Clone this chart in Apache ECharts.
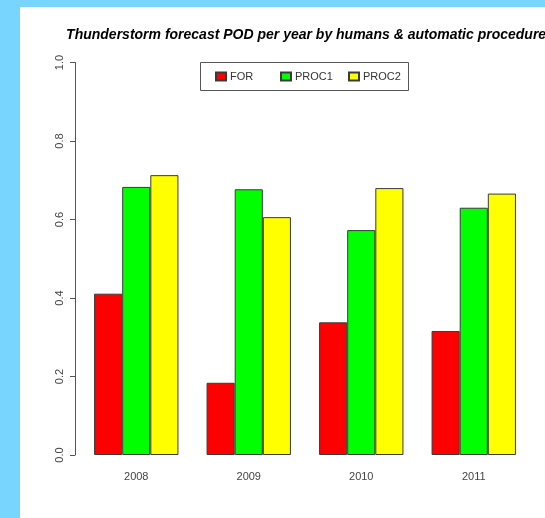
<!DOCTYPE html>
<html>
<head>
<meta charset="utf-8">
<script src="https://cdn.jsdelivr.net/npm/echarts@6/dist/echarts.min.js"></script>
<style>
  html, body { margin: 0; padding: 0; background: #78d5fe; }
  #panel { position: absolute; left: 20px; top: 7px; width: 525px; height: 511px; background: #ffffff; }
  #chart { position: absolute; left: 0; top: 0; width: 545px; height: 518px; }
</style>
</head>
<body>
<div id="panel"></div>
<div id="chart"></div>
<script>
// Forecast probability of detection (POD) per year
const years = ['2008', '2009', '2010', '2011'];
const seriesNames = ['FOR', 'PROC1', 'PROC2'];
const forValues = [0.411, 0.184, 0.338, 0.316];
const proc1Values = [0.683, 0.677, 0.573, 0.630];
const proc2Values = [0.713, 0.606, 0.680, 0.666];
const yTicks = [0, 0.2, 0.4, 0.6, 0.8, 1.0];

const colors = ['#ff0000', '#00ff00', '#ffff00'];
const font = '"Liberation Sans", Arial, sans-serif';

const chart = echarts.init(document.getElementById('chart'), null, { renderer: 'canvas' });

function barSeries(name, values, color) {
  return {
    name: name,
    type: 'bar',
    data: values,
    barGap: '0%',
    barCategoryGap: '25%',
    itemStyle: { color: color, borderColor: '#3a3a3a', borderWidth: 1 },
    emphasis: { disabled: true }
  };
}

// Legend entries sit in equal-width columns inside one framed box
const legendBox = { x: 200, y: 62, width: 208, height: 28 };
const legendColumnLeft = [215, 280, 348];

function legendEntry(name, left) {
  return {
    data: [name],
    left: left,
    top: legendBox.y + 9,
    padding: 0,
    itemWidth: 10,
    itemHeight: 8,
    icon: 'rect',
    selectedMode: false,
    textStyle: { fontFamily: font, fontSize: 11, color: '#333', padding: [0, 0, 0, -1] }
  };
}

chart.setOption({
  animation: false,
  backgroundColor: 'transparent',
  title: {
    text: 'Thunderstorm forecast POD per year by humans & automatic procedures',
    left: 305,
    top: 23,
    textAlign: 'center',
    textStyle: { fontFamily: font, fontSize: 14, fontWeight: 'bold', fontStyle: 'italic', color: '#000' }
  },
  legend: seriesNames.map(function (n, i) { return legendEntry(n, legendColumnLeft[i]); }),
  graphic: [{
    type: 'rect',
    shape: { x: legendBox.x + 0.5, y: legendBox.y + 0.5, width: legendBox.width, height: legendBox.height },
    style: { fill: 'none', stroke: '#555', lineWidth: 1 },
    silent: true
  }],
  grid: { left: 80, right: 15, top: 62.5, bottom: 63, containLabel: false },
  xAxis: {
    type: 'category',
    data: years,
    axisLine: { show: false },
    axisTick: { show: false },
    axisLabel: { fontFamily: font, fontSize: 11, color: '#444', margin: 16 }
  },
  yAxis: {
    type: 'value',
    min: 0,
    max: 1,
    interval: 0.2,
    offset: 5,
    splitLine: { show: false },
    axisLine: { show: true, lineStyle: { color: '#555', width: 1 } },
    axisTick: { show: true, length: 5, lineStyle: { color: '#555' } },
    axisLabel: {
      fontFamily: font, fontSize: 11, color: '#444', rotate: 90, margin: 10,
      formatter: function (v) { return yTicks.indexOf(Math.round(v * 10) / 10) >= 0 ? v.toFixed(1) : ''; }
    }
  },
  series: [
    barSeries(seriesNames[0], forValues, colors[0]),
    barSeries(seriesNames[1], proc1Values, colors[1]),
    barSeries(seriesNames[2], proc2Values, colors[2])
  ]
});
</script>
</body>
</html>
